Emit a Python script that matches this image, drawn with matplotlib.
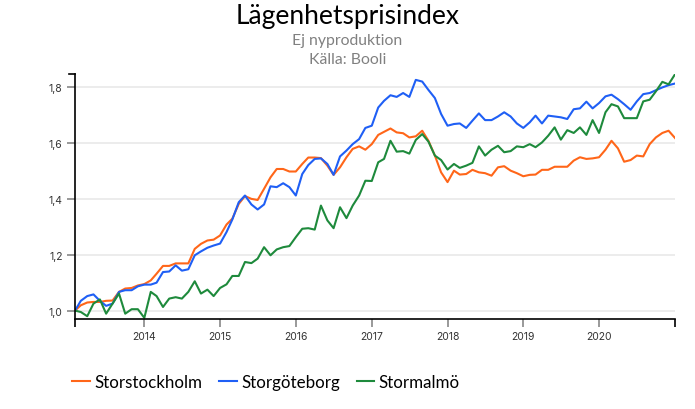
import matplotlib
matplotlib.use("Agg")
import matplotlib.pyplot as plt
import matplotlib.dates as mdates
from matplotlib.lines import Line2D
from matplotlib.ticker import FuncFormatter, FixedLocator
import pandas as pd

plt.rcParams['font.family'] = ['Lato', 'DejaVu Sans']

start_month = "2013-02-01"
n_months = 96

storstockholm = [
    1.000, 1.019, 1.029, 1.031, 1.031, 1.035, 1.036, 1.067, 1.079, 1.081,
    1.090, 1.095, 1.108, 1.132, 1.160, 1.160, 1.169, 1.169, 1.169, 1.221,
    1.239, 1.251, 1.254, 1.269, 1.308, 1.329, 1.382, 1.410, 1.400, 1.396,
    1.436, 1.477, 1.507, 1.507, 1.498, 1.498, 1.525, 1.548, 1.548, 1.546,
    1.519, 1.486, 1.513, 1.549, 1.579, 1.588, 1.576, 1.596, 1.629, 1.640,
    1.652, 1.638, 1.635, 1.620, 1.624, 1.644, 1.608, 1.555, 1.495, 1.460,
    1.501, 1.487, 1.489, 1.504, 1.495, 1.492, 1.483, 1.513, 1.517, 1.501,
    1.492, 1.481, 1.486, 1.487, 1.504, 1.504, 1.515, 1.515, 1.515, 1.537,
    1.549, 1.543, 1.545, 1.549, 1.576, 1.608, 1.581, 1.533, 1.539, 1.555,
    1.552, 1.596, 1.620, 1.636, 1.644, 1.618,
]

storgoteborg = [
    1.000, 1.035, 1.052, 1.058, 1.035, 1.017, 1.025, 1.067, 1.073, 1.073,
    1.087, 1.093, 1.093, 1.100, 1.138, 1.140, 1.162, 1.143, 1.148, 1.198,
    1.212, 1.225, 1.233, 1.240, 1.281, 1.326, 1.388, 1.412, 1.380, 1.362,
    1.380, 1.445, 1.442, 1.456, 1.442, 1.412, 1.489, 1.521, 1.543, 1.545,
    1.525, 1.486, 1.552, 1.573, 1.596, 1.614, 1.654, 1.662, 1.727, 1.751,
    1.771, 1.765, 1.779, 1.765, 1.826, 1.820, 1.790, 1.761, 1.704, 1.662,
    1.668, 1.670, 1.654, 1.680, 1.706, 1.682, 1.682, 1.695, 1.710, 1.695,
    1.670, 1.654, 1.674, 1.698, 1.670, 1.698, 1.695, 1.692, 1.686, 1.721,
    1.724, 1.748, 1.724, 1.743, 1.767, 1.773, 1.757, 1.739, 1.719, 1.749,
    1.775, 1.779, 1.789, 1.799, 1.807, 1.813,
]

stormalmo = [
    1.000, 0.995, 0.980, 1.025, 1.040, 0.989, 1.025, 1.061, 0.989, 1.005,
    1.005, 0.974, 1.067, 1.052, 1.013, 1.043, 1.048, 1.043, 1.067, 1.105,
    1.061, 1.075, 1.052, 1.081, 1.094, 1.124, 1.124, 1.174, 1.170, 1.186,
    1.227, 1.198, 1.219, 1.227, 1.231, 1.263, 1.293, 1.295, 1.290, 1.376,
    1.323, 1.295, 1.370, 1.331, 1.376, 1.412, 1.465, 1.464, 1.531, 1.543,
    1.608, 1.569, 1.571, 1.562, 1.611, 1.632, 1.605, 1.555, 1.539, 1.505,
    1.525, 1.511, 1.519, 1.529, 1.588, 1.555, 1.576, 1.590, 1.567, 1.571,
    1.588, 1.585, 1.596, 1.585, 1.602, 1.626, 1.656, 1.612, 1.646, 1.636,
    1.656, 1.629, 1.682, 1.636, 1.710, 1.739, 1.731, 1.689, 1.689, 1.689,
    1.749, 1.755, 1.785, 1.819, 1.810, 1.846,
]

series_names = ["Storstockholm", "Storgöteborg", "Stormalmö"]
series_colors = ["#FF6619", "#1F5FF5", "#1E8A3C"]
y_ticks = [1.0, 1.2, 1.4, 1.6, 1.8]
x_tick_years = [2014, 2015, 2016, 2017, 2018, 2019, 2020]

title = "Lägenhetsprisindex"
subtitle1 = "Ej nyproduktion"
subtitle2 = "Källa: Booli"

dates = pd.date_range(start_month, periods=n_months, freq="MS")

W, H = 695, 410
fig = plt.figure(figsize=(W / 100, H / 100), dpi=100)
L, R, T, B = 75, 675, 75.3, 319.7
ax = fig.add_axes([L / W, 1 - B / H, (R - L) / W, (B - T) / H])

for vals, name, col in zip([storstockholm, storgoteborg, stormalmo], series_names, series_colors):
    ax.plot(dates, vals, color=col, lw=1.5, label=name, solid_joinstyle="round")

ax.set_xlim(dates[0], dates[-1])
ymin = min(min(storstockholm), min(storgoteborg), min(stormalmo)) - 0.003
ymax = max(max(storstockholm), max(storgoteborg), max(stormalmo))
ax.set_ylim(ymin, ymax)

ax.set_yticks(y_ticks)
ax.yaxis.set_major_formatter(FuncFormatter(lambda v, p: f"{v:.1f}".replace(".", ",")))
ax.grid(axis="y", color="#ebebeb", lw=1.3)
ax.set_axisbelow(True)

xt = [pd.Timestamp(f"{y}-01-01") for y in x_tick_years]
ax.set_xticks(xt)
ax.set_xticklabels([str(y) for y in x_tick_years])
ax.xaxis.set_minor_locator(FixedLocator([mdates.date2num(dates[0]), mdates.date2num(dates[-1])]))

for s in ["top", "right"]:
    ax.spines[s].set_visible(False)
for s in ["left", "bottom"]:
    ax.spines[s].set_color("black")
    ax.spines[s].set_linewidth(1.2)

ax.tick_params(axis="both", which="major", color="#888888", length=6, width=1.2,
               labelsize=7.5, labelcolor="#333333", pad=3)
ax.tick_params(axis="x", which="minor", color="black", length=6, width=1.2)
for lab in ax.get_xticklabels() + ax.get_yticklabels():
    lab.set_fontfamily(["Inter", "DejaVu Sans"])
ax.add_line(Line2D([-6 / (R - L), 0], [1, 1], transform=ax.transAxes, color="black",
                   lw=1.2, clip_on=False))

fig.text(0.5, 1 - 16.5 / H, title, ha="center", va="center", fontsize=19, color="black")
fig.text(0.5, 1 - 41 / H, subtitle1, ha="center", va="center", fontsize=11.3, color="#808080")
fig.text(0.5, 1 - 60 / H, subtitle2, ha="center", va="center", fontsize=11.3, color="#808080")

fig.legend(loc="center left", bbox_to_anchor=(72 / W, 1 - 383 / H), ncol=3, frameon=False,
           fontsize=12.2, handlelength=1.05, handletextpad=0.25, columnspacing=1.0,
           borderaxespad=0, borderpad=0)

fig.savefig("out.png", dpi=100)
